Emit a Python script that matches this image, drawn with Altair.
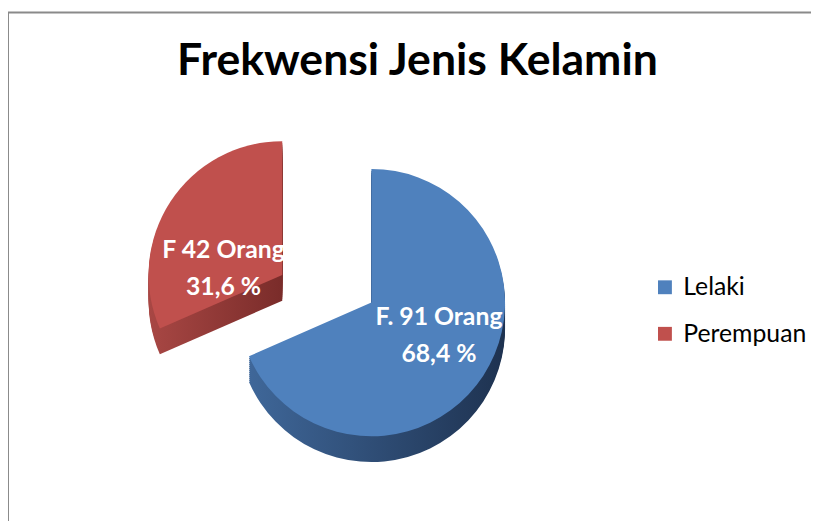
import altair as alt
import pandas as pd

# ---- data ----
categories = ["Lelaki", "Perempuan"]
counts = [91, 42]
freq_labels = ["F. 91 Orang", "F 42 Orang"]
pct_labels = ["68,4 %", "31,6 %"]

top_colors = ["#4F81BD", "#C0504D"]

df = pd.DataFrame({
    "kategori": categories,
    "jumlah": counts,
    "label": [f"{a}\n{b}" for a, b in zip(freq_labels, pct_labels)],
})

W, H = 811, 418
PAD_TOP = 95
CX, CY = 322, 186
R = 135
LABEL_R = 72

base = (
    alt.Chart(df)
    .transform_joinaggregate(total="sum(jumlah)")
    .transform_window(cum="sum(jumlah)", sort=[alt.SortField("kategori")], frame=[None, 0])
    .transform_calculate(
        t1="2*PI*datum.cum/datum.total",
        t0="2*PI*(datum.cum-datum.jumlah)/datum.total",
        tm="PI*(2*datum.cum-datum.jumlah)/datum.total",
    )
)

theta_enc = dict(
    theta=alt.Theta("t0:Q", scale=None),
    theta2=alt.Theta2("t1:Q"),
    x=alt.value(CX),
    y=alt.value(CY),
)


def side_gradient(light, dark):
    return alt.Gradient(
        gradient="linear",
        stops=[alt.GradientStop(color=light, offset=0), alt.GradientStop(color=dark, offset=1)],
        x1=0, x2=1, y1=0, y2=0,
    )


sides = {
    "Lelaki": side_gradient("#3F6799", "#1E3250"),
    "Perempuan": side_gradient("#A84744", "#7A2C2A"),
}
offsets = {"Lelaki": (45, 14), "Perempuan": (-45, -14)}
label_shift = {"Lelaki": (8, -25), "Perempuan": (1, 14)}

color_scale = alt.Scale(domain=categories, range=top_colors)
legend = alt.Legend(
    title=None, orient="none", legendX=651, legendY=172,
    symbolType="square", symbolSize=196, symbolStrokeWidth=0,
    labelFont="Lato", labelFontSize=25, labelColor="black",
    rowPadding=21, labelOffset=6,
)

layers = []
for cat in categories:
    dx, dy = offsets[cat]
    lx, ly = label_shift[cat]
    b = base.transform_filter(alt.datum.kategori == cat)
    for k in range(26, 0, -2):
        layers.append(
            b.mark_arc(radius=R, fill=sides[cat], strokeWidth=0, xOffset=dx, yOffset=dy + k)
            .encode(**theta_enc)
        )
    layers.append(
        b.mark_arc(radius=R, strokeWidth=0, xOffset=dx, yOffset=dy, opacity=1)
        .encode(color=alt.Color("kategori:N", scale=color_scale, legend=legend), **theta_enc)
    )
    layers.append(
        b.mark_text(
            font="Lato", fontSize=25, fontWeight="bold", color="white",
            lineBreak="\n", align="center", baseline="middle",
            xOffset=dx + lx, yOffset=dy + ly, lineHeight=38,
        ).encode(
            theta=alt.Theta("tm:Q", scale=None),
            radius=alt.value(LABEL_R),
            x=alt.value(CX),
            y=alt.value(CY),
            text="label:N",
        )
    )

frame_df = pd.DataFrame({"f": [0]})
left_border = alt.Chart(frame_df).mark_rule(color="#8A8A8A", strokeWidth=2).encode(
    x=alt.value(0), y=alt.value(-93), y2=alt.value(H + 10)
)
top_border = alt.Chart(frame_df).mark_rule(color="#8A8A8A", strokeWidth=2).encode(
    x=alt.value(-1), x2=alt.value(W + 10), y=alt.value(-93)
)

chart = (
    alt.layer(*layers, left_border, top_border)
    .properties(
        width=W, height=H,
        autosize=alt.AutoSizeParams(type="none"),
        padding={"left": 0, "top": PAD_TOP, "right": 0, "bottom": 0},
        title=alt.TitleParams(
            "Frekwensi Jenis Kelamin", font="Lato", fontSize=45, fontWeight="bold",
            color="black", anchor="middle", offset=-73, dx=8,
        ),
        background="white",
    )
    .configure_view(stroke=None)
)

chart.save("out.html", embed_options={"renderer": "svg", "actions": False})
